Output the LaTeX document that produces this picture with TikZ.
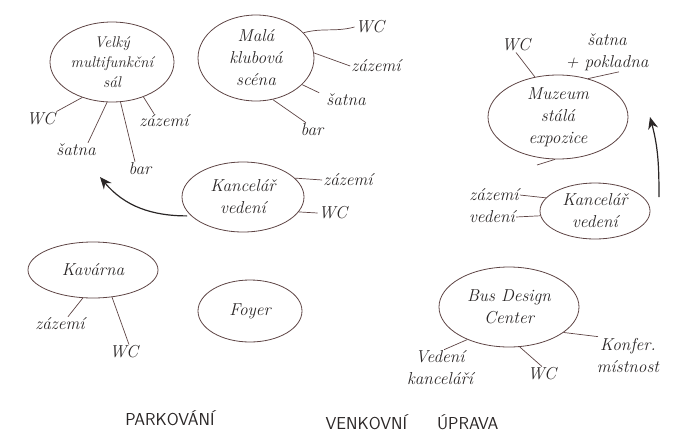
\documentclass[tikz,border=0pt]{standalone}
\usetikzlibrary{shapes.geometric,arrows.meta}
\definecolor{ink}{HTML}{5E4444}
\definecolor{pen}{HTML}{2A2626}

\begin{document}
\begin{tikzpicture}[x=1pt,y=-1pt,
  room/.style={draw=ink, line width=0.8pt, ellipse, inner sep=0pt},
  roomtext/.style={text=pen, align=center, font=\LARGE\itshape, inner sep=0pt},
  lbl/.style={text=pen, align=center, font=\LARGE\itshape, inner sep=1pt},
  wire/.style={draw=ink, line width=0.7pt},
  movearrow/.style={-{Stealth[length=12pt,width=10pt]}, line width=1.2pt, draw=pen},
  area/.style={text=pen, font=\LARGE\sffamily}]
\useasboundingbox (0,0) rectangle (675,445);

% velky sal
\node[room, minimum width=124, minimum height=80] (velky) at (112,62) {};
\node[roomtext, font=\fontsize{15.5}{20}\selectfont\itshape] (velkyT) at (velky) {Velký\\multifunkční\\sál};
\node[lbl] (velkyWC) at (41,119) {WC};
\node[lbl] (velkySatna) at (76,150) {šatna};
\node[lbl] (velkyBar) at (140,169) {bar};
\node[lbl] (velkyZaz) at (164,121) {zázemí};
\draw[wire] (velky.230) -- (velkyWC.north east);
\draw[wire] (velky.263) -- ([xshift=12pt]velkySatna.north);
\draw[wire] (velky.282) -- ([xshift=-5pt]velkyBar.north);
\draw[wire] (velky.312) -- ([xshift=-10pt]velkyZaz.north);

% mala klubova scena
\node[room, minimum width=116, minimum height=86] (mala) at (256,58) {};
\node[roomtext] (malaT) at (mala) {Malá\\klubová\\scéna};
\node[lbl] (malaWC) at (370,27) {WC};
\node[lbl] (malaZaz) at (376,66) {zázemí};
\node[lbl] (malaSatna) at (346,100) {šatna};
\node[lbl] (malaBar) at (312,130) {bar};
\draw[wire] (mala.28) to[out=15,in=195] (malaWC.west);
\draw[wire] (mala.5) -- (malaZaz.west);
\draw[wire] (mala.330) -- ([xshift=-6pt]malaSatna.north west);
\draw[wire] (mala.292) -- ([xshift=-6pt]malaBar.north);

% kancelar vedeni
\node[room, minimum width=122, minimum height=70] (kanc) at (243,197) {};
\node[roomtext] (kancT) at (kanc) {Kancelář\\vedení};
\node[lbl] (kancZaz) at (348,180) {zázemí};
\node[lbl] (kancWC) at (333,213) {WC};
\draw[wire] (kanc.20) -- (kancZaz.west);
\draw[wire] (kanc.345) -- (kancWC.west);
\coordinate (toVelky) at (100,177);
\draw[movearrow, shorten <=4pt] (kanc.200) to[out=180,in=-50] (toVelky);

% kavarna
\node[room, minimum width=130, minimum height=56] (kavarna) at (93,270) {};
\node[roomtext] (kavarnaT) at (kavarna) {Kavárna};
\node[lbl] (kavarnaZaz) at (60,324) {zázemí};
\node[lbl] (kavarnaWC) at (124,352) {WC};
\draw[wire] (kavarna.250) -- ([xshift=8pt]kavarnaZaz.north);
\draw[wire] (kavarna.305) -- ([xshift=5pt]kavarnaWC.north);

% foyer
\node[room, minimum width=104, minimum height=62] (foyer) at (250,311) {};
\node[roomtext] (foyerT) at (foyer) {Foyer};

% muzeum
\node[room, minimum width=140, minimum height=84] (muzeum) at (558,117) {};
\node[roomtext] (muzeumT) at (muzeum) {Muzeum\\stálá\\expozice};
\node[lbl] (muzeumWC) at (516,45) {WC};
\node[lbl] (muzeumSatna) at (607,52) {šatna\\+ pokladna};
\draw[wire] (muzeum.120) -- (muzeumWC.south);
\draw[wire] (muzeum.52) -- ([xshift=12pt]muzeumSatna.south);
\coordinate (muzeumStub) at (537,165);
\draw[wire] (muzeum.266) -- (muzeumStub);

% kancelar vedeni u muzea
\node[room, minimum width=110, minimum height=56] (kancM) at (595,211) {};
\node[roomtext] (kancMT) at (kancM) {Kancelář\\vedení};
\node[lbl] (kancMZaz) at (494,195) {zázemí};
\node[lbl] (kancMVed) at (492,217) {vedení};
\draw[wire] (kancMZaz.east) -- (kancM.165);
\draw[wire] (kancMVed.east) -- (kancM.185);
\coordinate (kancMStart) at (659,197);
\coordinate (toMuzeum) at (650,117);
\draw[movearrow] (kancMStart) to[out=90,in=-75] (toMuzeum);

% bus design center
\node[room, minimum width=140, minimum height=80] (bdc) at (509,307) {};
\node[roomtext] (bdcT) at (bdc) {Bus Design\\Center};
\node[lbl] (bdcVed) at (440,368) {Vedení\\kanceláří};
\node[lbl] (bdcWC) at (542,374) {WC};
\node[lbl] (bdcKonf) at (628,355) {Konfer.\\místnost};
\draw[wire] (bdc.218) -- ([xshift=4pt]bdcVed.north);
\draw[wire] (bdc.285) -- (bdcWC.north);
\draw[wire] (bdc.335) -- ([xshift=-30pt]bdcKonf.north);

% venkovni plochy
\node[area] (parking) at (170,418) {PARKOVÁNÍ};
\node[area] (venkovni) at (412,422) {VENKOVNÍ\hspace{30pt}ÚPRAVA};
\end{tikzpicture}
\end{document}
